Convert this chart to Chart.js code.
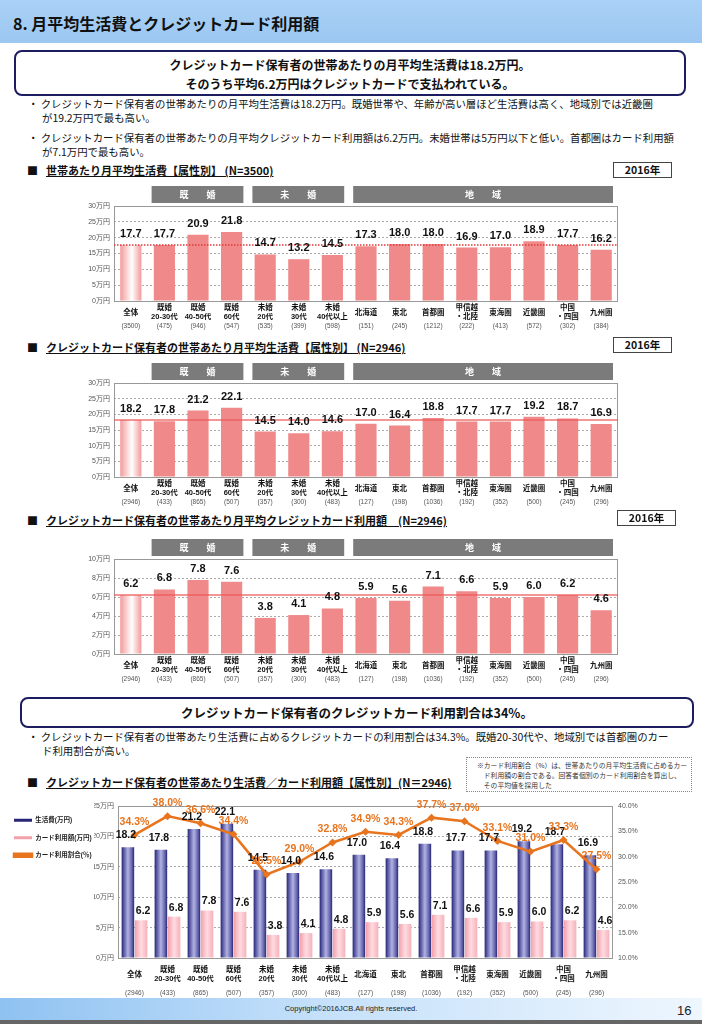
<!DOCTYPE html>
<html>
<head>
<meta charset="utf-8">
<script src="https://cdn.jsdelivr.net/npm/chart.js@4.4.0/dist/chart.umd.min.js"></script>
<style>
body { margin:0; width:702px; height:1024px; position:relative; background:#fff; overflow:hidden;
  font-family:'Noto Sans CJK JP', sans-serif; color:#111; }
.abs { position:absolute; white-space:nowrap; }
#hdr { left:0; top:0; width:702px; height:43px; background:linear-gradient(#aad1f6, #9cc7f1); }
#hdr span { position:absolute; left:13px; top:0; line-height:46px; font-size:16px; font-weight:bold; }
.box { border:2px solid #1c1c60; border-radius:8px; box-sizing:border-box; text-align:center; font-weight:bold; }
.bul { left:28px; font-size:10.4px; line-height:14px; }
.bul div { padding-left:14px; text-indent:-14px; }
.sec { left:27px; font-size:11px; font-weight:bold; line-height:16px; }
.sec u { margin-left:8px; }
.yr { width:59px; height:16px; border:1px solid #444; box-sizing:border-box; font-size:10.5px; font-weight:bold;
  text-align:center; line-height:14px; }
.cv { position:absolute; }
#note { left:466px; top:757px; width:226px; height:35px; border:1px dotted #888; box-sizing:border-box;
  font-size:6.8px; line-height:10px; padding:2px 0 0 10px; color:#333; }
#foot { left:0; top:998px; width:702px; height:22px; background:linear-gradient(90deg, #8fc2f1, #c4e0fa 45%, #eef6fe); }
#footline { left:0; top:1020px; width:702px; height:4px; background:#666; }
</style>
</head>
<body>
<div id="hdr" class="abs"><span>8. 月平均生活費とクレジットカード利用額</span></div>

<div class="abs box" style="left:14px;top:50px;width:672px;height:46px;font-size:12px;line-height:19px;padding-top:3px;">
クレジットカード保有者の世帯あたりの月平均生活費は18.2万円。<br>そのうち平均6.2万円はクレジットカードで支払われている。</div>

<div class="abs bul" style="top:97px;">
<div>・ クレジットカード保有者の世帯あたりの月平均生活費は18.2万円。既婚世帯や、年齢が高い層ほど生活費は高く、地域別では近畿圏<br>が19.2万円で最も高い。</div>
<div style="margin-top:6px;">・ クレジットカード保有者の世帯あたりの月平均クレジットカード利用額は6.2万円。未婚世帯は5万円以下と低い。首都圏はカード利用額<br>が7.1万円で最も高い。</div>
</div>

<div class="abs sec" style="top:162px;">■<u>世帯あたり月平均生活費【属性別】 (N=3500)</u></div>
<div class="abs yr" style="left:613px;top:162px;">2016年</div>
<div class="cv" style="left:50px;top:180px;width:590px;height:155px;"><canvas id="c1"></canvas></div>

<div class="abs sec" style="top:339px;">■<u>クレジットカード保有者の世帯あたり月平均生活費【属性別】 (N=2946)</u></div>
<div class="abs yr" style="left:613px;top:337px;">2016年</div>
<div class="cv" style="left:50px;top:357px;width:590px;height:154px;"><canvas id="c2"></canvas></div>

<div class="abs sec" style="top:512px;">■<u>クレジットカード保有者の世帯あたり月平均クレジットカード利用額　(N=2946)</u></div>
<div class="abs yr" style="left:617px;top:510px;">2016年</div>
<div class="cv" style="left:50px;top:533px;width:590px;height:155px;"><canvas id="c3"></canvas></div>

<div class="abs box" style="left:20px;top:697px;width:674px;height:31px;font-size:12.5px;line-height:27px;">
クレジットカード保有者のクレジットカード利用割合は34%。</div>

<div class="abs bul" style="top:730px;">
<div>・ クレジットカード保有者の世帯あたり生活費に占めるクレジットカードの利用割合は34.3%。既婚20-30代や、地域別では首都圏のカー<br>ド利用割合が高い。</div>
</div>

<div id="note" class="abs">※カード利用割合（%）は、世帯あたりの月平均生活費に占めるカー<br>　ド利用額の割合である。回答者個別のカード利用割合を算出し、<br>　その平均値を採用した</div>

<div class="abs sec" style="top:774px;">■<u>クレジットカード保有者の世帯あたり生活費／カード利用額【属性別】(N＝2946)</u></div>
<div class="cv" style="left:0px;top:790px;width:655px;height:212px;"><canvas id="c4"></canvas></div>

<div id="foot" class="abs"></div>
<div class="abs" style="left:0;top:1004px;width:702px;text-align:center;font-family:'Liberation Sans',sans-serif;font-size:7.5px;color:#222;">Copyright©2016JCB.All rights reserved.</div>
<div class="abs" style="left:677px;top:1003px;font-family:'Liberation Sans',sans-serif;font-size:13px;color:#222;">16</div>
<div id="footline" class="abs"></div>

<script>
// カテゴリ
const categories = ['全体', ['既婚', '20-30代'], ['既婚', '40-50代'], ['既婚', '60代'],
  ['未婚', '20代'], ['未婚', '30代'], ['未婚', '40代以上'], '北海道', '東北', '首都圏',
  ['甲信越', '・北陸'], '東海圏', '近畿圏', ['中国', '・四国'], '九州圏'];
const samplesAll = ['(3500)', '(475)', '(946)', '(547)', '(535)', '(399)', '(598)', '(151)',
  '(245)', '(1212)', '(222)', '(413)', '(572)', '(302)', '(384)'];
const samplesHolders = ['(2946)', '(433)', '(865)', '(507)', '(357)', '(300)', '(483)', '(127)',
  '(198)', '(1036)', '(192)', '(352)', '(500)', '(245)', '(296)'];

// グループ見出し
const groupNames = ['既　　婚', '未　　婚', '地　　域'];
const groupFirst = [1, 4, 7];
const groupLast = [3, 6, 14];

// 値（万円・%）
const livingAll = [17.7, 17.7, 20.9, 21.8, 14.7, 13.2, 14.5, 17.3, 18.0, 18.0, 16.9, 17.0, 18.9, 17.7, 16.2];
const livingHolders = [18.2, 17.8, 21.2, 22.1, 14.5, 14.0, 14.6, 17.0, 16.4, 18.8, 17.7, 17.7, 19.2, 18.7, 16.9];
const cardSpend = [6.2, 6.8, 7.8, 7.6, 3.8, 4.1, 4.8, 5.9, 5.6, 7.1, 6.6, 5.9, 6.0, 6.2, 4.6];
const cardRatio = [34.3, 38.0, 36.6, 34.4, 26.5, 29.0, 32.8, 34.9, 34.3, 37.7, 37.0, 33.1, 31.0, 33.3, 27.5];
const seriesNames = ['生活費(万円)', 'カード利用額(万円)', 'カード利用割合(％)'];

const NUM = "'Liberation Sans', 'Noto Sans CJK JP', sans-serif";
const PINK = '#f08a8a';
const ORANGE = '#e8741e';

// 横方向グラデーション（棒ごと）
function barGradient(ctx, dsCount, catPct, barPct, stops, solid) {
  const chart = ctx.chart;
  const xs = chart.scales.x;
  if (!chart.chartArea || !xs || ctx.dataIndex === undefined) return solid;
  const slot = xs.width / categories.length * catPct / dsCount;
  const w = slot * barPct;
  const cx = xs.getPixelForValue(ctx.dataIndex) + (ctx.datasetIndex - (dsCount - 1) / 2) * slot;
  const g = chart.ctx.createLinearGradient(cx - w / 2, 0, cx + w / 2, 0);
  stops.forEach(s => g.addColorStop(s[0], s[1]));
  return g;
}

const framePlugin = {
  id: 'frame',
  beforeDatasetsDraw(chart) {
    const a = chart.chartArea, c = chart.ctx;
    c.save();
    c.strokeStyle = '#999';
    c.lineWidth = 1;
    c.strokeRect(a.left + 0.5, a.top + 0.5, a.width - 1, a.height);
    c.restore();
  }
};

const groupPlugin = {
  id: 'groups',
  afterDraw(chart) {
    const xs = chart.scales.x, c = chart.ctx;
    const half = xs.width / categories.length / 2;
    const top = chart.chartArea.top - 20;
    c.save();
    groupNames.forEach((name, i) => {
      const l = xs.getPixelForValue(groupFirst[i]) - half + 4;
      const r = xs.getPixelForValue(groupLast[i]) + half - 5;
      c.fillStyle = '#7b7b7b';
      c.fillRect(l, top, r - l, 17);
      c.fillStyle = '#fff';
      c.font = "bold 9px 'Noto Sans CJK JP'";
      c.textAlign = 'center';
      c.textBaseline = 'middle';
      c.fillText(name, (l + r) / 2, top + 9);
    });
    c.restore();
  }
};

const avgPlugin = {
  id: 'avgLine',
  afterDatasetsDraw(chart, args, opts) {
    const y = chart.scales.y.getPixelForValue(opts.value);
    const a = chart.chartArea, c = chart.ctx;
    c.save();
    c.strokeStyle = opts.color;
    c.lineWidth = opts.width;
    c.setLineDash(opts.dash);
    c.beginPath();
    c.moveTo(a.left, y);
    c.lineTo(a.right, y);
    c.stroke();
    c.restore();
  }
};

const valuePlugin = {
  id: 'values',
  afterDatasetsDraw(chart, args, opts) {
    const c = chart.ctx;
    c.save();
    c.textAlign = 'center';
    c.textBaseline = 'middle';
    chart.data.datasets.forEach((ds, di) => {
      const meta = chart.getDatasetMeta(di);
      const st = opts.styles[di];
      c.font = st.font;
      c.fillStyle = st.color;
      meta.data.forEach((el, i) => {
        c.fillText(ds.data[i].toFixed(1) + st.suffix, el.x + st.dx, el.y - st.dy);
      });
    });
    c.restore();
  }
};

function categoryAxes(samples, labelHeight, labelPad) {
  return {
    x: {
      offset: true,
      grid: { display: false, drawTicks: false },
      border: { display: false },
      ticks: { font: { family: NUM, size: 7.5, weight: 'bold' }, color: '#111', padding: labelPad,
        autoSkip: false, maxRotation: 0, minRotation: 0, crossAlign: 'center' },
      afterFit: s => { s.height = labelHeight; }
    },
    n: {
      type: 'category', labels: samples, position: 'bottom', offset: true,
      grid: { display: false, drawTicks: false },
      border: { display: false },
      ticks: { font: { family: NUM, size: 6.5 }, color: '#555', padding: 1,
        autoSkip: false, maxRotation: 0, minRotation: 0 },
      afterFit: s => { s.height = 14; }
    }
  };
}

function yenAxis(max, step, width) {
  return {
    min: 0, max: max,
    ticks: { stepSize: step, callback: v => v + '万円', font: { family: NUM, size: 7 }, color: '#555', padding: 4 },
    grid: { color: '#aaa', drawTicks: false },
    border: { display: false, dash: [2, 2] },
    afterFit: s => { s.width = width; }
  };
}

function singleBarChart(id, values, samples, max, step, avg) {
  const scales = categoryAxes(samples, 20, 7);
  scales.y = yenAxis(max, step, 60);
  return new Chart(document.getElementById(id), {
    type: 'bar',
    data: {
      labels: categories,
      datasets: [{
        data: values,
        barPercentage: 0.63,
        categoryPercentage: 1,
        backgroundColor: ctx => ctx.dataIndex === 0
          ? barGradient(ctx, 1, 1, 0.63, [[0, '#f39a9a'], [0.55, '#ffffff'], [1, '#f39a9a']], PINK)
          : PINK
      }]
    },
    options: {
      responsive: true, maintainAspectRatio: false, animation: false,
      layout: { padding: { left: 4, right: 22, top: 26, bottom: 0 } },
      plugins: {
        legend: { display: false }, tooltip: { enabled: false },
        avgLine: avg,
        values: { styles: [{ font: 'bold 11px ' + NUM, color: '#111', suffix: '', dx: 0, dy: 11 }] }
      },
      scales: scales
    },
    plugins: [framePlugin, groupPlugin, avgPlugin, valuePlugin]
  });
}

singleBarChart('c1', livingAll, samplesAll, 30, 5,
  { value: livingAll[0], color: '#e03a3a', width: 1.5, dash: [1.5, 1.5] });
singleBarChart('c2', livingHolders, samplesHolders, 30, 5,
  { value: livingHolders[0], color: 'rgba(235,90,90,0.85)', width: 1.5, dash: [] });
singleBarChart('c3', cardSpend, samplesHolders, 10, 2,
  { value: cardSpend[0], color: 'rgba(235,90,90,0.85)', width: 1.5, dash: [] });

// 生活費／カード利用額／利用割合
const CAT4 = 0.8, BAR4 = 0.95;
const scales4 = categoryAxes(samplesHolders, 30, 12);
scales4.y = yenAxis(25, 5, 24);
scales4.y2 = {
  position: 'right', min: 10, max: 40,
  ticks: { stepSize: 5, callback: v => v.toFixed(1) + '%', font: { family: NUM, size: 7 }, color: '#555', padding: 5 },
  grid: { display: false, drawTicks: false },
  border: { display: false },
  afterFit: s => { s.width = 30; }
};

new Chart(document.getElementById('c4'), {
  type: 'bar',
  data: {
    labels: categories,
    datasets: [{
      label: seriesNames[0],
      data: livingHolders,
      yAxisID: 'y', order: 1,
      barPercentage: BAR4, categoryPercentage: CAT4,
      backgroundColor: ctx => barGradient(ctx, 2, CAT4, BAR4,
        [[0, '#262674'], [0.18, '#5a5aa6'], [0.5, '#b2b2e2'], [0.82, '#6464ae'], [1, '#262674']], '#3a3a8c')
    }, {
      label: seriesNames[1],
      data: cardSpend,
      yAxisID: 'y', order: 1,
      barPercentage: BAR4, categoryPercentage: CAT4,
      backgroundColor: ctx => barGradient(ctx, 2, CAT4, BAR4,
        [[0, '#f2a0aa'], [0.5, '#ffdbe1'], [1, '#f5b2bb']], '#f4b0b8')
    }, {
      type: 'line',
      label: seriesNames[2],
      data: cardRatio,
      yAxisID: 'y2', order: 0,
      borderColor: ORANGE, backgroundColor: ORANGE, borderWidth: 2.5,
      pointStyle: 'rectRot', pointRadius: 4, pointBackgroundColor: ORANGE, pointBorderWidth: 0
    }]
  },
  options: {
    responsive: true, maintainAspectRatio: false, animation: false,
    layout: { padding: { left: 3, right: 12, top: 16, bottom: 0 } },
    plugins: {
      tooltip: { enabled: false },
      legend: {
        position: 'left', align: 'start', maxWidth: 91,
        labels: { boxWidth: 18, boxHeight: 3, padding: 11, color: '#222',
          sort: (a, b) => a.datasetIndex - b.datasetIndex,
          font: { family: NUM, size: 6.5, weight: 'bold' } }
      },
      values: { styles: [
        { font: 'bold 10.5px ' + NUM, color: '#111', suffix: '', dx: -2, dy: 12 },
        { font: 'bold 10.5px ' + NUM, color: '#111', suffix: '', dx: 2, dy: 9 },
        { font: 'bold 10.5px ' + NUM, color: ORANGE, suffix: '%', dx: 0, dy: 13 }
      ] }
    },
    scales: scales4
  },
  plugins: [framePlugin, valuePlugin]
});
</script>
</body>
</html>
